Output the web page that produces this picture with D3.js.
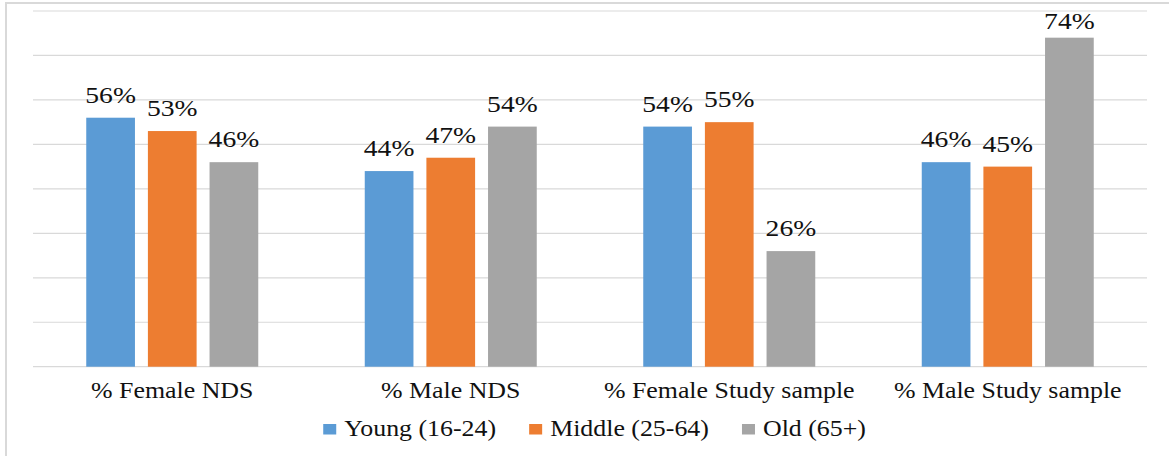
<!DOCTYPE html>
<html>
<head>
<meta charset="utf-8">
<script src="https://cdn.jsdelivr.net/npm/d3@7"></script>
<style>
  body { margin: 0; background: #fff; }
  svg { display: block; }
  .grid-line { stroke: #d9d9d9; stroke-width: 1.2; }
</style>
</head>
<body>
<div id="wrapper"></div>
<script>
const categories = ["% Female NDS", "% Male NDS", "% Female Study sample", "% Male Study sample"]
const seriesNames = ["Young (16-24)", "Middle (25-64)", "Old (65+)"]
const young = [0.56, 0.44, 0.54, 0.46]
const middle = [0.53, 0.47, 0.55, 0.45]
const old = [0.46, 0.54, 0.26, 0.74]
const gridTicks = [0, 0.1, 0.2, 0.3, 0.4, 0.5, 0.6, 0.7, 0.8]
const colors = ["#5b9bd5", "#ed7d31", "#a5a5a5"]

const fontFamily = "'Liberation Serif'"

async function drawBars() {

  // 1. Access data

  const seriesValues = [young, middle, old]
  const dataset = categories.map((category, i) => ({
    category,
    values: seriesNames.map((name, j) => ({ name, value: seriesValues[j][i] })),
  }))

  // 2. Create chart dimensions

  let dimensions = {
    width: 1169,
    height: 456,
    margin: {
      top: 11,
      right: 22,
      bottom: 89.3,
      left: 33,
    },
  }
  dimensions.boundedWidth = dimensions.width - dimensions.margin.left - dimensions.margin.right
  dimensions.boundedHeight = dimensions.height - dimensions.margin.top - dimensions.margin.bottom

  // the source text is slightly stretched sideways
  const stretch = 1.15

  // 3. Draw canvas

  const wrapper = d3.select("#wrapper")
    .append("svg")
      .attr("width", dimensions.width)
      .attr("height", dimensions.height)

  wrapper.append("rect")
      .attr("x", 6)
      .attr("y", 3)
      .attr("width", dimensions.width + 50)
      .attr("height", dimensions.height + 50)
      .attr("fill", "none")
      .attr("stroke", "#d9d9d9")
      .attr("stroke-width", 2)

  const bounds = wrapper.append("g")
      .attr("transform", `translate(${dimensions.margin.left}, ${dimensions.margin.top})`)

  // 4. Create scales

  const xScale = d3.scaleBand()
    .domain(categories)
    .range([0, dimensions.boundedWidth])

  const groupWidth = 172
  const seriesScale = d3.scaleBand()
    .domain(seriesNames)
    .range([(xScale.bandwidth() - groupWidth) / 2, (xScale.bandwidth() + groupWidth) / 2])
    .paddingInner(0.21)

  const yScale = d3.scaleLinear()
    .domain([0, 0.8])
    .range([dimensions.boundedHeight, 0])

  const colorScale = d3.scaleOrdinal()
    .domain(seriesNames)
    .range(colors)

  // 6. Draw peripherals (grid first so bars sit on top)

  bounds.append("g")
    .selectAll("line")
    .data(gridTicks)
    .join("line")
      .attr("class", "grid-line")
      .attr("x1", 0)
      .attr("x2", dimensions.boundedWidth)
      .attr("y1", d => yScale(d))
      .attr("y2", d => yScale(d))

  // 5. Draw data

  const groups = bounds.append("g")
    .selectAll("g")
    .data(dataset)
    .join("g")
      .attr("transform", d => `translate(${xScale(d.category)}, 0)`)

  groups.selectAll("rect")
    .data(d => d.values)
    .join("rect")
      .attr("x", d => seriesScale(d.name))
      .attr("y", d => yScale(d.value))
      .attr("width", seriesScale.bandwidth())
      .attr("height", d => dimensions.boundedHeight - yScale(d.value))
      .attr("fill", d => colorScale(d.name))

  const percent = d3.format(".0%")
  groups.selectAll("text")
    .data(d => d.values)
    .join("text")
      .attr("transform", d => {
        const x = seriesScale(d.name) + seriesScale.bandwidth() / 2
        const y = Math.max(yScale(d.value) - 15, 18.3)
        return `translate(${x}, ${y}) scale(${stretch}, 1)`
      })
      .attr("text-anchor", "middle")
      .style("font-family", fontFamily)
      .style("font-size", "24px")
      .style("fill", "#111")
      .text(d => percent(d.value))

  // category labels
  bounds.append("g")
    .selectAll("text")
    .data(categories)
    .join("text")
      .attr("transform", d => `translate(${xScale(d) + xScale.bandwidth() / 2}, ${dimensions.boundedHeight + 31.5}) scale(${stretch}, 1)`)
      .attr("text-anchor", "middle")
      .style("font-family", fontFamily)
      .style("font-size", "22.5px")
      .style("fill", "#111")
      .text(d => d)

  // legend
  const legend = wrapper.append("g")
  const legendY = 436
  const swatch = { width: 13, height: 10.5 }
  const swatchGap = 8
  const itemGap = 33

  const items = legend.selectAll("g")
    .data(seriesNames)
    .join("g")

  items.append("rect")
      .attr("width", swatch.width)
      .attr("height", swatch.height)
      .attr("y", legendY - 12)
      .attr("fill", d => colorScale(d))

  const labels = items.append("text")
      .style("font-family", fontFamily)
      .style("font-size", "22.5px")
      .style("fill", "#111")
      .text(d => d)

  const textWidths = labels.nodes().map(n => n.getComputedTextLength() * stretch)
  const itemWidths = textWidths.map(w => swatch.width + swatchGap + w)
  const totalWidth = d3.sum(itemWidths) + itemGap * (itemWidths.length - 1)
  let cursor = 594.6 - totalWidth / 2
  const offsets = itemWidths.map(w => {
    const start = cursor
    cursor += w + itemGap
    return start
  })

  items.attr("transform", (d, i) => `translate(${offsets[i]}, 0)`)
  labels.attr("transform", `translate(${swatch.width + swatchGap}, ${legendY}) scale(${stretch}, 1)`)
}
drawBars()
</script>
</body>
</html>
